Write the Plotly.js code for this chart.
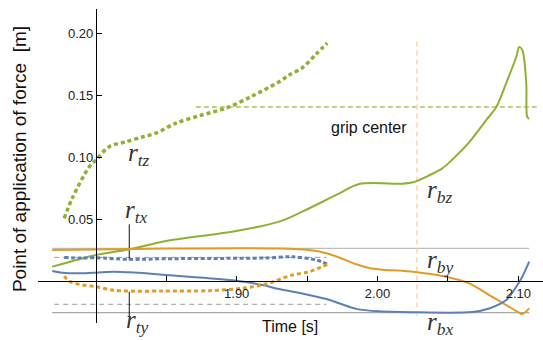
<!DOCTYPE html>
<html>
<head>
<meta charset="utf-8">
<script src="https://cdn.plot.ly/plotly-3.0.1.min.js"></script>
<style>html,body{margin:0;padding:0;background:#fff;}#chart{width:543px;height:340px;}</style>
</head>
<body>
<div id="chart"></div>
<script>
// ---- data (time in s, position in m) ----
const tBz = [1.769, 1.783, 1.800, 1.8237, 1.8499, 1.8996, 1.9302, 1.9465, 1.9707, 1.9870, 2.0176, 2.0246, 2.0296, 2.036, 2.046, 2.053, 2.065, 2.0772, 2.0843, 2.0914, 2.0985, 2.1006, 2.1028, 2.1056, 2.1063, 2.1077];
const rBz = [0.0116, 0.0160, 0.0210, 0.0256, 0.0323, 0.0404, 0.0480, 0.0560, 0.0695, 0.0784, 0.0786, 0.0795, 0.0816, 0.0850, 0.0910, 0.0980, 0.1120, 0.1300, 0.1405, 0.1599, 0.1809, 0.1890, 0.1866, 0.1600, 0.1325, 0.1309];

const tBy = [1.769, 1.800, 1.850, 1.900, 1.930, 1.9515, 1.9636, 1.9728, 1.9849, 1.9941, 2.0033, 2.0176, 2.0246, 2.0488, 2.0651, 2.0793, 2.0914, 2.1006, 2.1028, 2.1077];
const rBy = [0.0250, 0.0255, 0.0262, 0.0264, 0.0262, 0.0250, 0.0225, 0.0190, 0.0135, 0.0105, 0.0092, 0.0084, 0.0076, 0.0035, -0.0019, -0.0113, -0.0194, -0.0256, -0.0267, -0.0221];

const tBx = [1.769, 1.7761, 1.7881, 1.800, 1.8116, 1.8237, 1.8357, 1.8499, 1.8996, 1.9181, 1.9302, 1.9465, 1.9636, 1.9728, 1.9849, 2.0012, 2.0296, 2.0673, 2.0793, 2.0914, 2.0985, 2.1028, 2.1077];
const rBx = [0.0081, 0.0067, 0.0062, 0.0067, 0.0075, 0.0070, 0.0062, 0.0048, 0.0002, -0.0032, -0.0065, -0.0100, -0.0145, -0.0180, -0.0225, -0.0245, -0.0253, -0.0250, -0.0222, -0.0154, -0.0046, 0.0035, 0.0156];

const tTz = [1.7775, 1.7832, 1.7952, 1.800, 1.8094, 1.8215, 1.8329, 1.8428, 1.8570, 1.8734, 1.8925, 1.9110, 1.9302, 1.9373, 1.9465, 1.9565, 1.9643];
const rTz = [0.0506, 0.0668, 0.0921, 0.0977, 0.1085, 0.1125, 0.1163, 0.1195, 0.1276, 0.1335, 0.1397, 0.1494, 0.1610, 0.1664, 0.1721, 0.1834, 0.1922];

const tTx = [1.7775, 1.790, 1.800, 1.8237, 1.850, 1.8925, 1.920, 1.9394, 1.9565, 1.9643];
const rTx = [0.0191, 0.0185, 0.0188, 0.0175, 0.0180, 0.0183, 0.0186, 0.0196, 0.0170, 0.0135];

const tTy = [1.7775, 1.7810, 1.7881, 1.800, 1.8116, 1.8237, 1.8471, 1.8805, 1.9039, 1.9209, 1.9394, 1.9515, 1.9607, 1.9643];
const rTy = [0.0040, 0.0000, -0.0027, -0.0046, -0.0073, -0.0081, -0.0081, -0.0078, -0.0059, -0.0024, 0.0048, 0.0075, 0.0116, 0.0135];

// reference lines
const footSpan = [1.769, 2.1077];
const footBound = [0.0264, -0.0256];
const toeSpan = [1.7704, 1.9636];
const toeBound = [0.0191, -0.0188];
const gripSpan = [1.871, 2.113];
const gripCenter = 0.1405;
const markTime = 2.028;
const markRange = [0.1935, -0.028];
const pointerTime = 1.8237;
const pointerTx = [0.0458, 0.0170];
const pointerTy = [-0.0086, -0.0289];

// tick labels
const xTickVals = [1.90, 2.00, 2.10];
const xTickText = ['1.90', '2.00', '2.10'];
const xMinorVals = [1.85, 1.95, 2.05];
const yTickVals = [0.05, 0.10, 0.15, 0.20];
const yTickText = ['0.05', '0.10', '0.15', '0.20'];

const BLUE = '#5E81B5', ORANGE = '#E19C24', GREEN = '#8FB032';

function hline(span, y, color, width, dash) {
  return {x: span, y: [y, y], mode: 'lines', line: {color: color, width: width, dash: dash || 'solid'}, hoverinfo: 'skip', showlegend: false};
}
function vline(x, range, color, width, dash) {
  return {x: [x, x], y: range, mode: 'lines', line: {color: color, width: width, dash: dash || 'solid'}, hoverinfo: 'skip', showlegend: false};
}
function curve(t, r, color, width, dash) {
  return {x: t, y: r, mode: 'lines', line: {color: color, width: width, dash: dash || 'solid', shape: 'spline', smoothing: 0.9}, showlegend: false};
}

const traces = [
  hline(footSpan, footBound[0], '#bdbdbd', 1.2),
  hline(footSpan, footBound[1], '#a8a8a8', 1.2),
  hline(toeSpan, toeBound[0], '#9a9a9a', 1, '5px,4px'),
  hline(toeSpan, toeBound[1], '#9a9a9a', 1, '5px,4px'),
  hline(gripSpan, gripCenter, '#a9c55a', 1.5, '5px,3px'),
  vline(markTime, markRange, '#fcd3ad', 1.5, '5px,4px'),
  vline(pointerTime, pointerTx, '#111', 1),
  vline(pointerTime, pointerTy, '#111', 1),
  curve(tBz, rBz, GREEN, 2),
  curve(tBy, rBy, ORANGE, 2),
  curve(tBx, rBx, BLUE, 2),
  curve(tTz, rTz, GREEN, 3.5, '4px,3px'),
  curve(tTx, rTx, BLUE, 3, '4px,2.5px'),
  curve(tTy, rTy, ORANGE, 3, '4px,3px')
];

const mathFont = {family: '"Liberation Serif", "DejaVu Serif", serif', size: 25, color: '#333'};
function mathLabel(text, x, y, yanchor) {
  return {text: text, x: x, y: y, xref: 'paper', yref: 'paper', showarrow: false, xanchor: 'center', yanchor: yanchor || 'middle', font: mathFont};
}

const layout = {
  width: 543, height: 340,
  margin: {l: 38, r: 0, t: 9, b: 17, pad: 0},
  paper_bgcolor: '#fff', plot_bgcolor: '#fff',
  showlegend: false,
  font: {family: '"Liberation Sans", Arial, sans-serif', color: '#222'},
  xaxis: {
    range: [1.7589, 2.1175], anchor: 'free', position: 0.1337,
    showline: true, linecolor: '#000', linewidth: 1,
    ticks: 'inside', ticklen: 5, tickcolor: '#000', tickwidth: 1,
    tickmode: 'array', tickvals: xTickVals, ticktext: xTickText,
    minor: {tickmode: 'array', tickvals: xMinorVals, ticks: 'inside', ticklen: 5, tickcolor: '#000', tickwidth: 1, showgrid: false},
    tickfont: {size: 13, color: '#222'},
    showgrid: false, zeroline: false, automargin: false
  },
  yaxis: {
    range: [-0.0339, 0.2197], anchor: 'free', position: 0.1146,
    showline: true, linecolor: '#000', linewidth: 1,
    ticks: 'inside', ticklen: 5, tickcolor: '#000', tickwidth: 1,
    tickmode: 'array', tickvals: yTickVals, ticktext: yTickText,
    tickfont: {size: 13, color: '#222'},
    showgrid: false, zeroline: false, automargin: false
  },
  annotations: [
    mathLabel('<i>r</i><sub><i>tz</i></sub>', 0.200, 0.538),
    mathLabel('<i>r</i><sub><i>tx</i></sub>', 0.196, 0.355),
    mathLabel('<i>r</i><sub><i>ty</i></sub>', 0.198, -0.052, 'bottom'),
    mathLabel('<i>r</i><sub><i>bz</i></sub>', 0.796, 0.420),
    mathLabel('<i>r</i><sub><i>by</i></sub>', 0.796, 0.197),
    mathLabel('<i>r</i><sub><i>bx</i></sub>', 0.796, -0.003),
    {text: 'grip center', x: 0.655, y: 0.624, xref: 'paper', yref: 'paper', showarrow: false, xanchor: 'center', yanchor: 'middle', font: {size: 16, color: '#111'}},
    {text: 'Time [s]', x: 0.499, y: -0.0096, xref: 'paper', yref: 'paper', showarrow: false, xanchor: 'center', yanchor: 'middle', font: {size: 16, color: '#111'}},
    {text: 'Point of application of force  [m]', x: -0.0376, y: 0.522, xref: 'paper', yref: 'paper', showarrow: false, textangle: -90, xanchor: 'center', yanchor: 'middle', font: {size: 19, color: '#111'}}
  ]
};

Plotly.newPlot('chart', traces, layout, {staticPlot: true, displayModeBar: false});
</script>
</body>
</html>
